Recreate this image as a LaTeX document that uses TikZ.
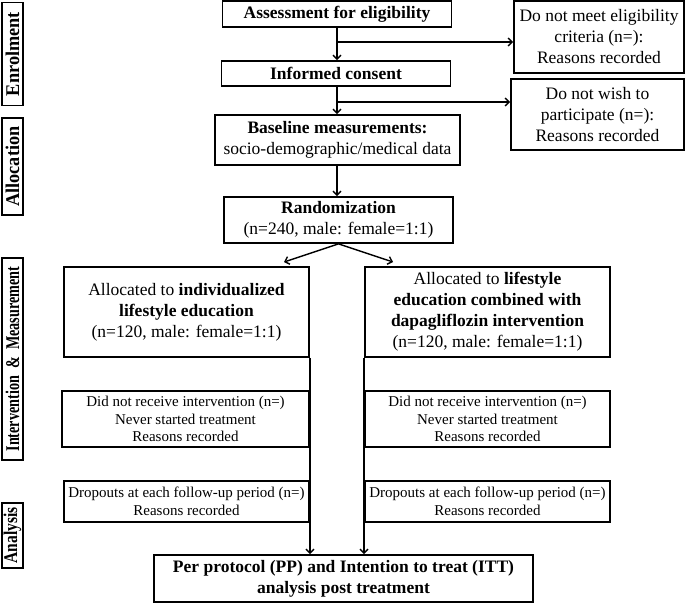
\documentclass[tikz,border=0pt]{standalone}
\usepackage{fontspec}
\setmainfont{Liberation Serif}
\usepackage{tikz}
\usetikzlibrary{arrows.meta}
\newcommand{\stagetext}[2]{\resizebox{#1}{13.5pt}{\bfseries #2}}

\begin{document}
\begin{tikzpicture}[x=1pt,y=-1pt,
  >={Straight Barb[length=4pt,width=8pt]},
  box/.style={draw,line width=1.8pt,align=center,inner sep=1pt,font={\fontsize{17.5}{21}\selectfont}},
  smallbox/.style={box,font={\fontsize{15}{17.5}\selectfont}},
  stage/.style={draw,line width=1.8pt,rotate=90,inner sep=0pt,minimum height=21pt},
  link/.style={line width=1.4pt}]
  \useasboundingbox (0,0) rectangle (685,603);
  % etapas (columna izquierda)
  \node[stage,minimum width=103pt] (enrol) at (12.5,54) {\stagetext{84pt}{Enrolment}};
  \node[stage,minimum width=97pt] (alloc) at (12.5,166.5) {\stagetext{80pt}{Allocation}};
  \node[stage,minimum width=202pt] (interv) at (12.5,359) {\stagetext{185pt}{Intervention\ \ \&\ \ Measurement}};
  \node[stage,minimum width=65pt] (analys) at (12.5,535.5) {\stagetext{56pt}{Analysis}};
  % columna central
  \node[box,minimum width=229pt,minimum height=26pt] (assess) at (337,14) {\textbf{Assessment for eligibility}};
  \node[box,minimum width=229pt,minimum height=25pt] (consent) at (336,73.5) {\textbf{Informed consent}};
  \node[box,minimum width=245pt,minimum height=50pt] (baseline) at (337.5,140) {\textbf{Baseline measurements:}\\socio-demographic/medical data};
  \node[box,minimum width=229pt,minimum height=46pt] (random) at (338.5,220) {\textbf{Randomization}\\(n=240, male: female=1:1)};
  % exclusiones
  \node[box,minimum width=170pt,minimum height=72pt] (excl1) at (599,37) {Do not meet eligibility\\criteria (n=):\\Reasons recorded};
  \node[box,minimum width=173pt,minimum height=71pt] (excl2) at (597.5,114.5) {Do not wish to\\participate (n=):\\Reasons recorded};
  % brazos
  \node[box,minimum width=245pt,minimum height=90pt] (armA) at (186.5,312) {Allocated to \textbf{individualized}\\\textbf{lifestyle education}\\(n=120, male: female=1:1)};
  \node[box,minimum width=245pt,minimum height=90pt] (armB) at (487.5,312) {Allocated to \textbf{lifestyle}\\\textbf{education combined with}\\\textbf{dapagliflozin intervention}\\(n=120, male: female=1:1)};
  \node[smallbox,minimum width=247pt,minimum height=56pt] (norecA) at (185.5,419) {Did not receive intervention (n=)\\Never started treatment\\Reasons recorded};
  \node[smallbox,minimum width=245pt,minimum height=56pt] (norecB) at (487.5,419) {Did not receive intervention (n=)\\Never started treatment\\Reasons recorded};
  \node[smallbox,minimum width=245pt,minimum height=41pt] (dropA) at (186.5,501.5) {Dropouts at each follow-up period (n=)\\Reasons recorded};
  \node[smallbox,minimum width=245pt,minimum height=41pt] (dropB) at (487.5,501.5) {Dropouts at each follow-up period (n=)\\Reasons recorded};
  \node[box,minimum width=379pt,minimum height=47pt] (pp) at (343.5,578.5) {\textbf{Per protocol (PP) and Intention to treat (ITT)}\\\textbf{analysis post treatment}};
  % flechas
  \coordinate (fork1) at (337,42);
  \coordinate (fork2) at (337,102);
  \coordinate (toA) at (284,262);
  \coordinate (toB) at (393,262);
  \draw[->,link] (assess.south) -- (assess.south |- consent.north);
  \draw[->,link] (fork1) -- (fork1 -| excl1.west);
  \draw[->,link] (assess.south |- consent.south) -- (assess.south |- baseline.north);
  \draw[->,link] (fork2) -- (fork2 -| excl2.west);
  \draw[->,link] (assess.south |- baseline.south) -- (assess.south |- random.north);
  \draw[->,link] (random.south) -- (toA);
  \draw[->,link] (random.south) -- (toB);
  \draw[->,link] (armA.south east) -- (armA.south east |- pp.north);
  \draw[->,link] (armB.south west) -- (armB.south west |- pp.north);
\end{tikzpicture}
\end{document}
